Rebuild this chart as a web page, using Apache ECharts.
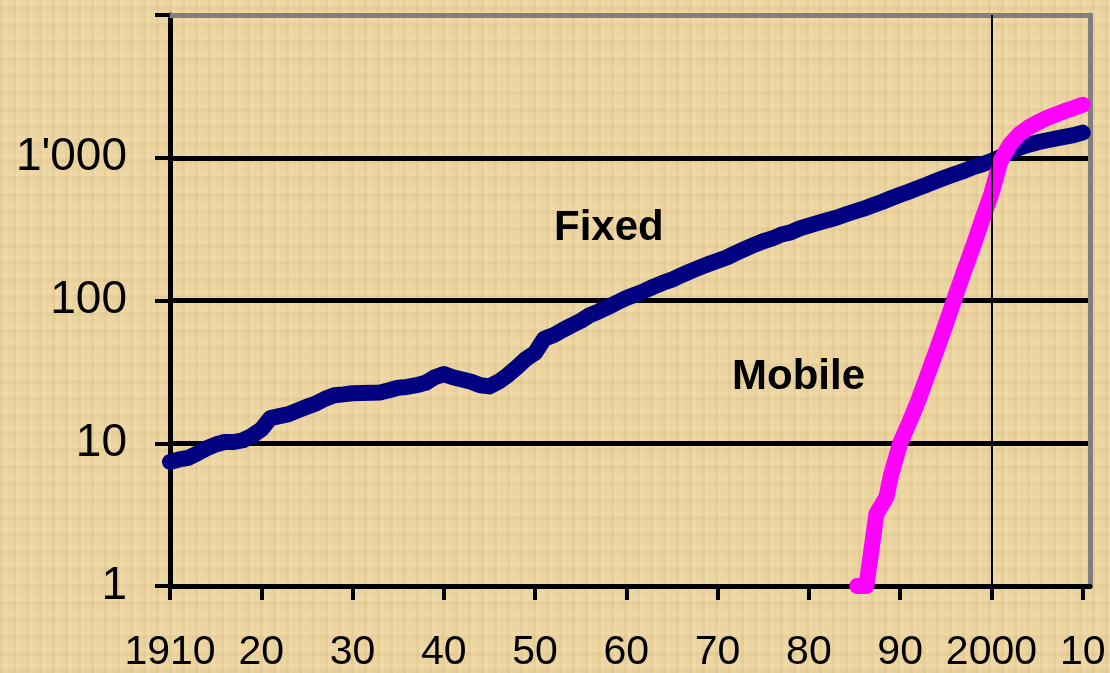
<!DOCTYPE html>
<html>
<head>
<meta charset="utf-8">
<script src="https://cdn.jsdelivr.net/npm/echarts@6/dist/echarts.min.js"></script>
<style>
  html, body { margin: 0; padding: 0; }
  body {
    width: 1110px; height: 673px; overflow: hidden;
    background-color: #ebd49f;
    background-image:
      repeating-linear-gradient(90deg, rgba(190,160,100,0.12) 0 3px, rgba(255,240,200,0.10) 3px 7px, rgba(0,0,0,0) 7px 13px),
      repeating-linear-gradient(0deg, rgba(190,160,100,0.10) 0 4px, rgba(255,240,200,0.10) 4px 9px, rgba(0,0,0,0) 9px 17px);
  }
  #chart { width: 1110px; height: 673px; }
</style>
</head>
<body>
<div id="chart"></div>
<script>
// subscribers per year, log scale
const fixedYears = [1910, 1911, 1912, 1913, 1914, 1915, 1916, 1917, 1918, 1919,
  1920, 1921, 1922, 1923, 1924, 1925, 1926, 1927, 1928, 1929,
  1930, 1931, 1932, 1933, 1934, 1935, 1936, 1937, 1938, 1939,
  1940, 1941, 1942, 1943, 1944, 1945, 1946, 1947, 1948, 1949,
  1950, 1951, 1952, 1953, 1954, 1955, 1956, 1957, 1958, 1959,
  1960, 1961, 1962, 1963, 1964, 1965, 1966, 1967, 1968, 1969,
  1970, 1971, 1972, 1973, 1974, 1975, 1976, 1977, 1978, 1979,
  1980, 1981, 1982, 1983, 1984, 1985, 1986, 1987, 1988, 1989,
  1990, 1991, 1992, 1993, 1994, 1995, 1996, 1997, 1998, 1999,
  2000, 2001, 2002, 2003, 2004, 2005, 2006, 2007, 2008, 2009, 2010];
const fixedValues = [7.4, 7.7, 7.9, 8.5, 9.2, 9.8, 10.2, 10.2, 10.5, 11.3,
  12.5, 15, 15.5, 16, 17, 18, 19, 20.5, 21.7, 22,
  22.4, 22.5, 22.6, 22.7, 23.5, 24.5, 24.8, 25.5, 26.5, 29,
  30.5, 29, 28, 27, 25.5, 25, 27, 30, 34, 39,
  43, 54, 57, 62, 67, 72, 79, 84, 90, 97,
  104, 110, 117, 125, 133, 140, 150, 160, 170, 180,
  190, 200, 215, 230, 245, 260, 272, 290, 300, 320,
  335, 350, 365, 380, 400, 420, 440, 465, 490, 520,
  550, 580, 615, 650, 690, 730, 770, 810, 860, 900,
  950, 1010, 1100, 1170, 1230, 1280, 1320, 1360, 1400, 1440, 1500];

const mobileYears = [1985.3, 1986.3, 1987.4, 1988.5, 1989, 1990, 1991, 1992, 1993, 1994,
  1995, 1996, 1997, 1998, 1999, 2000, 2001, 2002, 2003, 2004,
  2005, 2006, 2007, 2008, 2009, 2010];
const mobileValues = [1, 1, 3.2, 4.2, 6, 10, 14, 20, 30, 45,
  68, 105, 160, 240, 370, 560, 950, 1230, 1450, 1620,
  1760, 1890, 2000, 2120, 2230, 2350];

const yTicks = [1, 10, 100, 1000];
const yTickLabels = ['1', '10', '100', "1'000"];
const markerYear = 2000;

const pair = (xs, ys) => xs.map((x, i) => [x, ys[i]]);

const chart = echarts.init(document.getElementById('chart'), null, { renderer: 'canvas' });

const font = 'Liberation Sans, Arial, sans-serif';

chart.setOption({
  backgroundColor: 'transparent',
  animation: false,
  grid: { left: 170, right: 20, top: 15, bottom: 87, containLabel: false },
  xAxis: [{
    type: 'value',
    min: 1910,
    max: 2010.8,
    interval: 10,
    axisLine: { show: true, onZero: false, lineStyle: { color: '#000', width: 5 } },
    axisTick: { show: true, inside: false, length: 14, lineStyle: { color: '#000', width: 4 } },
    axisLabel: {
      margin: 46,
      fontSize: 41,
      fontFamily: font,
      color: '#000',
      showMaxLabel: false,
      formatter: v => {
        if (v === 1910 || v === 2000) return String(v);
        return String(v % 100).padStart(2, '0');
      }
    },
    splitLine: { show: false }
  }, {
    type: 'value',
    position: 'top',
    min: 1910,
    max: 2010.8,
    axisLine: { show: true, lineStyle: { color: '#808080', width: 5 } },
    axisTick: { show: false },
    axisLabel: { show: false },
    splitLine: { show: false }
  }],
  yAxis: [{
    type: 'log',
    logBase: 10,
    min: 1,
    max: 10000,
    axisLine: { show: true, onZero: false, lineStyle: { color: '#000', width: 5 } },
    axisTick: { show: true, length: 15, lineStyle: { color: '#000', width: 4 } },
    axisLabel: {
      margin: 43,
      fontSize: 46,
      fontFamily: font,
      color: '#000',
      formatter: v => {
        const i = yTicks.indexOf(Math.round(v));
        return i >= 0 ? yTickLabels[i] : '';
      }
    },
    splitLine: {
      show: true,
      lineStyle: { color: ['#000', '#000', '#000', '#000', '#808080'], width: 5 }
    }
  }, {
    type: 'log',
    position: 'right',
    min: 1,
    max: 10000,
    axisLine: { show: true, lineStyle: { color: '#808080', width: 5 } },
    axisTick: { show: false },
    axisLabel: { show: false },
    splitLine: { show: false }
  }],
  graphic: [
    {
      type: 'text', left: 554, top: 207, z: 10,
      style: { text: 'Fixed', font: 'bold 42px ' + font, fill: '#000' }
    },
    {
      type: 'text', left: 732, top: 356, z: 10,
      style: { text: 'Mobile', font: 'bold 42px ' + font, fill: '#000' }
    }
  ],
  series: [
    {
      name: 'Fixed',
      type: 'line',
      data: pair(fixedYears, fixedValues),
      showSymbol: false,
      symbol: 'none',
      lineStyle: { color: '#000080', width: 16, cap: 'round', join: 'round' },
      z: 3,
      markLine: {
        silent: true,
        symbol: 'none',
        label: { show: false },
        lineStyle: { color: '#000', width: 2, type: 'solid' },
        data: [{ xAxis: markerYear }]
      }
    },
    {
      name: 'Mobile',
      type: 'line',
      data: pair(mobileYears, mobileValues),
      showSymbol: false,
      symbol: 'none',
      lineStyle: { color: '#ff00ff', width: 16, cap: 'round', join: 'round' },
      z: 4
    }
  ]
});
</script>
</body>
</html>
